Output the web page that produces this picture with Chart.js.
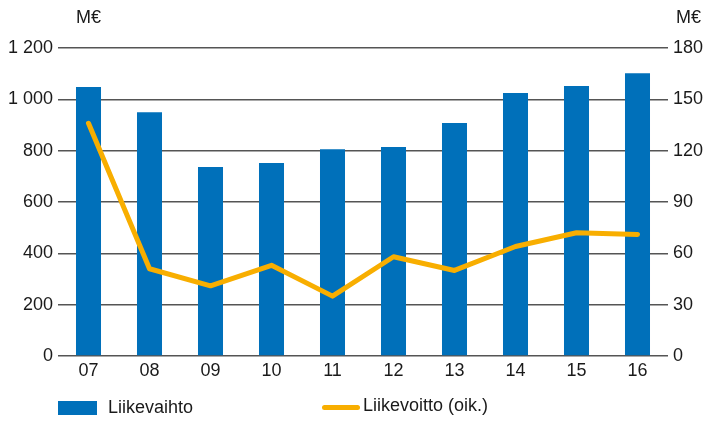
<!DOCTYPE html>
<html>
<head>
<meta charset="utf-8">
<script src="https://cdn.jsdelivr.net/npm/chart.js@4"></script>
<style>
	body { margin: 0; background: #fff; font-family: "Liberation Sans", Arial, sans-serif; color: #1a1a1a; }
	#wrap { position: relative; width: 707px; height: 421px; }
	.unit { position: absolute; top: 7px; font-size: 18px; }
	.leg { position: absolute; font-size: 18px; }
</style>
</head>
<body>
<div id="wrap">
	<canvas id="myChart" width="707" height="421"></canvas>
	<div class="unit" style="left: 76px;">M€</div>
	<div class="unit" style="left: 676px;">M€</div>
	<div style="position:absolute; left:58px; top:401px; width:39px; height:14px; background:#0070BA;"></div>
	<div class="leg" style="left:108px; top:397px;">Liikevaihto</div>
	<div style="position:absolute; left:322px; top:405px; width:38px; height:5px; border-radius:3px; background:#F8AE00;"></div>
	<div class="leg" style="left:363px; top:395px;">Liikevoitto (oik.)</div>
</div>
<script>
let years = ["07", "08", "09", "10", "11", "12", "13", "14", "15", "16"];
let liikevaihto = [1048, 950, 736, 752, 806, 814, 908, 1025, 1052, 1102];
let liikevoitto = [136, 51, 41, 53, 35, 58, 50, 64, 72, 71];

Chart.defaults.font.family = '"Liberation Sans", Arial, sans-serif';
Chart.defaults.font.size = 18;
Chart.defaults.color = "#1a1a1a";

var ctx = document.getElementById("myChart").getContext("2d");
var chart = new Chart(ctx, {
	type: "bar",
	data: {
		labels: years,
		datasets: [
			{
				type: "line",
				label: "Liikevoitto (oik.)",
				data: liikevoitto,
				yAxisID: "y1",
				borderColor: "#F8AE00",
				borderWidth: 5,
				pointRadius: 0,
				tension: 0,
				borderCapStyle: "round",
				borderJoinStyle: "round",
				order: 0,
			},
			{
				label: "Liikevaihto",
				data: liikevaihto,
				yAxisID: "y",
				backgroundColor: "#0070BA",
				barPercentage: 0.41,
				categoryPercentage: 1,
				order: 1,
			},
		],
	},
	options: {
		responsive: false,
		animation: false,
		layout: { padding: { top: 48, bottom: 37 } },
		plugins: { legend: { display: false }, tooltip: { enabled: false } },
		scales: {
			x: {
				grid: { display: false },
				border: { display: false },
				ticks: { padding: -4 },
				afterFit: (s) => { s.height = 28; },
			},
			y: {
				position: "left",
				min: 0,
				max: 1200,
				border: { display: false },
				grid: { color: "#555", lineWidth: 1.5, drawTicks: false },
				ticks: {
					stepSize: 200,
					padding: 5,
					callback: (v) => v >= 1000 ? Math.floor(v / 1000) + " " + String(v % 1000).padStart(3, "0") : v,
				},
				afterFit: (s) => { s.width = 58; },
			},
			y1: {
				position: "right",
				min: 0,
				max: 180,
				border: { display: false },
				grid: { display: false, drawTicks: false },
				ticks: { stepSize: 30, padding: 5 },
				afterFit: (s) => { s.width = 39; },
			},
		},
	},
});
</script>
</body>
</html>
